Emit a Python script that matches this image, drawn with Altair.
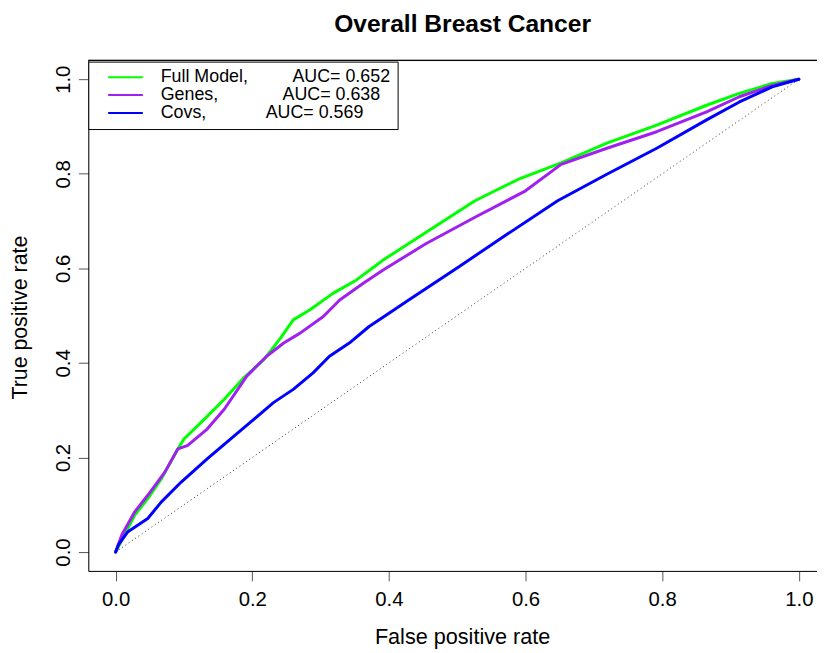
import altair as alt
import pandas as pd

FONT = "Liberation Sans"
NB = "\u00a0"

# ---- data ----
series_labels = [
    "Full Model," + NB * 9 + "AUC= 0.652",
    "Genes," + NB * 13 + "AUC= 0.638",
    "Covs," + NB * 12 + "AUC= 0.569",
]
series_colors = ["#00FF00", "#A020F0", "#0000FF"]

full_fpr = [0, .018, .028, .047, .067, .091, .10, .13, .159, .188, .217, .241, .26, .284, .318, .352,
            .381, .391, .454, .526, .589, .652, .719, .792, .865, .913, .961, 1.0]
full_tpr = [0, .050, .078, .113, .155, .218, .239, .281, .323, .369, .407, .452, .491, .512, .547, .575,
            .606, .617, .676, .743, .788, .823, .865, .903, .945, .970, .991, 1.0]

genes_fpr = [0, .009, .028, .047, .072, .091, .105, .134, .159, .192, .221, .246, .27, .304, .328, .362,
             .391, .454, .526, .600, .652, .719, .792, .865, .913, .961, 1.0]
genes_tpr = [0, .036, .085, .120, .169, .218, .225, .260, .302, .372, .414, .442, .463, .498, .533, .568,
             .596, .652, .708, .764, .820, .854, .889, .931, .963, .987, 1.0]

covs_fpr = [0, .004, .018, .047, .067, .096, .134, .168, .197, .231, .26, .289, .313, .342, .371, .393,
            .429, .502, .574, .647, .719, .792, .865, .913, .961, 1.0]
covs_tpr = [0, .015, .043, .071, .106, .148, .197, .239, .274, .316, .344, .379, .414, .442, .477, .498,
            .533, .603, .673, .743, .799, .854, .914, .952, .984, 1.0]

diag_fpr = [0.0, 1.0]
diag_tpr = [0.0, 1.0]

tick_values = [0.0, 0.2, 0.4, 0.6, 0.8, 1.0]
X_DOMAIN = [-0.04, 1.0266]
Y_DOMAIN = [-0.04, 1.04]

# ---- build tables ----
curves = [(full_fpr, full_tpr), (genes_fpr, genes_tpr), (covs_fpr, covs_tpr)]
frames = []
for lab, (fx, fy) in zip(series_labels, curves):
    frames.append(pd.DataFrame({"fpr": fx, "tpr": fy, "series": lab}))
diag_df = pd.DataFrame({"fpr": diag_fpr, "tpr": diag_tpr})

x_axis = alt.Axis(
    values=tick_values, format=".1f", grid=False, tickSize=10, tickColor="#555",
    domainColor="black", domainWidth=1, labelFont=FONT, labelFontSize=20.5,
    labelColor="black", labelPadding=9, labelFlush=False, labelOverlap=False,
    title="False positive rate", titleFont=FONT, titleFontSize=21.8,
    titleFontWeight="normal", titleColor="black", titleX=377, titleY=73,
    titleBaseline="alphabetic", titleAlign="center",
)
y_axis = alt.Axis(
    values=tick_values, format=".1f", grid=False, tickSize=10, tickColor="#555",
    domainColor="black", domainWidth=1, labelFont=FONT, labelFontSize=20.5,
    labelColor="black", labelPadding=9, labelFlush=False, labelOverlap=False,
    labelAngle=270, labelAlign="center", labelBaseline="alphabetic",
    title="True positive rate", titleFont=FONT, titleFontSize=21.5,
    titleFontWeight="normal", titleColor="black", titleAngle=270,
    titleX=-62, titleY=259, titleBaseline="alphabetic", titleAlign="center",
)

X = alt.X("fpr:Q", scale=alt.Scale(domain=X_DOMAIN, nice=False, zero=False), axis=x_axis)
Y = alt.Y("tpr:Q", scale=alt.Scale(domain=Y_DOMAIN, nice=False, zero=False), axis=y_axis)

legend = alt.Legend(
    orient="none", legendX=0, legendY=1.3, symbolType="stroke", symbolSize=1225,
    symbolStrokeWidth=2, clipHeight=17.5, rowPadding=-2, padding=7, symbolOffset=12,
    labelOffset=17, labelFont=FONT, labelFontSize=18, labelColor="black",
    labelLimit=0, strokeColor="black", fillColor="white", cornerRadius=0,
)
C = alt.Color("series:N", scale=alt.Scale(domain=series_labels, range=series_colors),
              legend=legend, title=None)

diag = alt.Chart(diag_df).mark_line(color="#333333", strokeWidth=1, strokeDash=[1, 3]).encode(x=X, y=Y)

layers = [diag]
for df in frames:
    layers.append(
        alt.Chart(df).mark_line(strokeWidth=3, strokeCap="round", strokeJoin="round").encode(
            x=X, y=Y, color=C
        )
    )

top_border = alt.Chart(diag_df).mark_rule(color="black", strokeWidth=1).encode(
    x=alt.datum(X_DOMAIN[0]), x2=alt.datum(X_DOMAIN[1]), y=alt.datum(Y_DOMAIN[1])
)
layers.append(top_border)

chart = alt.layer(*layers).properties(
    width=735,
    height=515,
    autosize=alt.AutoSizeParams(type="none"),
    padding={"left": 81, "top": 50, "right": 0, "bottom": 79},
    title=alt.Title("Overall Breast Cancer", font=FONT, fontSize=24.8, fontWeight="bold",
                    color="black", anchor="middle", frame="group", offset=23.5, dx=10),
).configure_view(stroke="transparent").configure(background="white")

chart.save("out.html", embed_options={"renderer": "svg", "actions": False})
